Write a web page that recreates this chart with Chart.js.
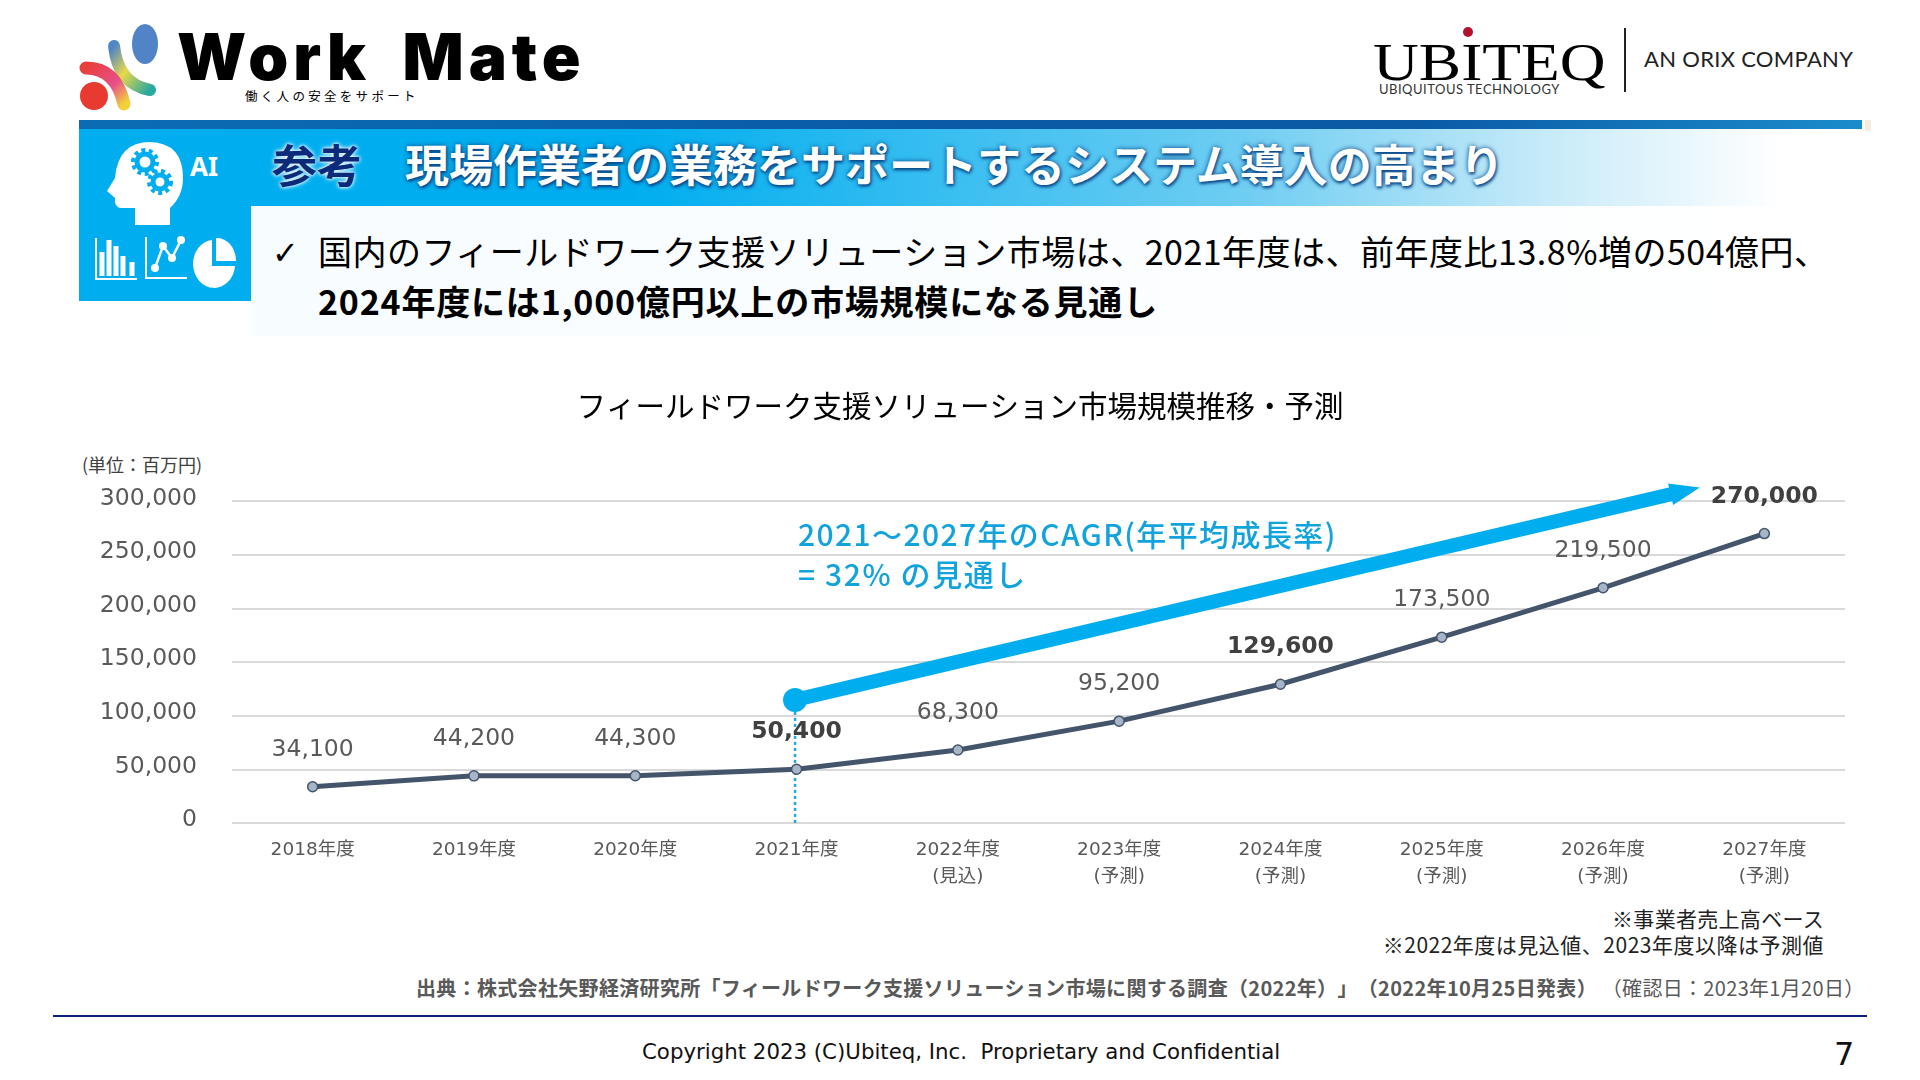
<!DOCTYPE html>
<html lang="ja">
<head>
<meta charset="utf-8">
<title>フィールドワーク支援ソリューション市場規模推移・予測</title>
<script src="https://cdn.jsdelivr.net/npm/chart.js@4"></script>
<style>
  html, body { margin: 0; padding: 0; background: #fff; }
  #page { position: relative; width: 1920px; height: 1080px; overflow: hidden; font-family: "Noto Sans CJK JP", sans-serif; color: #000; text-spacing-trim: space-all; }
  #page > * { position: absolute; }
  .t { white-space: nowrap; line-height: 1; }
  canvas { left: 75px; top: 380px; }
</style>
</head>
<body>
<div id="page">
  <!-- logo left -->
  <svg style="left:75px;top:20px" width="90" height="95" viewBox="75 20 90 95">
    <defs>
      <linearGradient id="g1" x1="0" y1="0" x2="1" y2="1"><stop offset="0" stop-color="#4f86c6"/><stop offset=".45" stop-color="#e8d94a"/><stop offset="1" stop-color="#27a8a0"/></linearGradient>
      <linearGradient id="g2" x1="0" y1="0" x2="1" y2="1"><stop offset="0" stop-color="#e8403a"/><stop offset=".6" stop-color="#e84f8c"/><stop offset="1" stop-color="#f2d13a"/></linearGradient>
    </defs>
    <ellipse cx="145" cy="44" rx="13" ry="20" fill="#5184c6"/>
    <path d="M114 46 Q118 84 150 90" fill="none" stroke="url(#g1)" stroke-width="12" stroke-linecap="round"/>
    <path d="M86 68 Q116 68 124 104" fill="none" stroke="url(#g2)" stroke-width="13" stroke-linecap="round"/>
    <ellipse cx="94" cy="96" rx="14" ry="14" fill="#e83a30"/>
  </svg>
  <div class="t" style="left:177px;top:18px;font:900 64px Inter,sans-serif;letter-spacing:5px;word-spacing:14px">Work Mate</div>
  <div class="t" style="left:245px;top:90px;font-size:12.5px;letter-spacing:3.3px">働く人の安全をサポート</div>

  <!-- logo right -->
  <div class="t" style="left:1373px;top:33px;font:52px 'Liberation Serif',serif;transform:scaleX(1.22);transform-origin:0 0">UBITEQ</div>
  <div style="left:1463px;top:27px;width:10px;height:10px;border-radius:50%;background:#b3122e"></div>
  <div class="t" style="left:1379px;top:81px;font:13px Lato,sans-serif;letter-spacing:.5px;color:#333">UBIQUITOUS TECHNOLOGY</div>
  <div style="left:1624px;top:28px;width:2px;height:64px;background:#222"></div>
  <div class="t" style="left:1644px;top:45px;font:22px Lato,sans-serif;color:#222;letter-spacing:.3px">AN ORIX COMPANY</div>

  <!-- header band -->
  <div style="left:79px;top:120px;width:1783px;height:9px;background:linear-gradient(90deg,#0b6cb4,#0a5aa6 50%,#0a5aa6 75%,#1b8ccb)"></div>
  <div style="left:1865px;top:120px;width:6px;height:11px;background:#f6eedc"></div>
  <div style="left:251px;top:129px;width:1530px;height:77px;background:linear-gradient(90deg,#00aeef,#00aeef 25%,#6fcdf2 65%,#c8ebf9 85%,#fff)"></div>
  <div style="left:79px;top:129px;width:172px;height:172px;background:#00aeef"></div>
  <div style="left:251px;top:206px;width:1620px;height:130px;background:linear-gradient(90deg,#f7fcff,#fff)"></div>

  <!-- AI icons -->
  <svg style="left:79px;top:129px" width="172" height="172" viewBox="79 129 172 172">
    <path d="M135 225 L135 208 L120 208 Q114 206 115 198 L107 191 L115 178 Q118 142 150 142 Q183 143 183 178 Q183 196 170 208 L170 225 Z" fill="#fff"/>
    <circle cx="145" cy="162" r="8" fill="none" stroke="#00aeef" stroke-width="5"/>
    <circle cx="145" cy="162" r="12" fill="none" stroke="#00aeef" stroke-width="4" stroke-dasharray="4 3.5"/>
    <circle cx="160" cy="182" r="7" fill="none" stroke="#00aeef" stroke-width="5"/>
    <circle cx="160" cy="182" r="11" fill="none" stroke="#00aeef" stroke-width="4" stroke-dasharray="4 3.5"/>
    <path d="M96 238 V279 H137" fill="none" stroke="#fff" stroke-width="2"/>
    <path d="M102 276 V252 M109 276 V240 M116 276 V246 M123 276 V256 M132 276 V262" stroke="#fff" stroke-width="5"/>
    <path d="M146 237 V278 H187" fill="none" stroke="#fff" stroke-width="2"/>
    <path d="M155 268 L163 246 L172 258 L181 240" fill="none" stroke="#fff" stroke-width="2.5"/>
    <g fill="#fff"><circle cx="155" cy="268" r="4"/><circle cx="163" cy="246" r="4"/><circle cx="172" cy="258" r="4"/><circle cx="181" cy="240" r="4"/></g>
    <path d="M212 240 A21 24 0 1 0 235 266 L212 266 Z" fill="#fff"/>
    <path d="M216 238 A19 23 0 0 1 236 261 L216 261 Z" fill="#fff"/>
  </svg>
  <div class="t" style="left:190px;top:148px;font:700 26px 'Noto Sans',sans-serif;color:#fff">AI</div>

  <div class="t" style="left:272px;top:141px;font-size:45px;font-weight:700;color:#0b2a7a;text-shadow:0 0 5px #fff,0 0 3px #fff">参考</div>
  <div class="t" style="left:405px;top:141px;font-size:44px;font-weight:700;color:#fff;text-shadow:0 0 5px #0b4a8c,1px 2px 3px #0b4a8c">現場作業者の業務をサポートするシステム導入の高まり</div>

  <div class="t" style="left:272px;top:234px;font:32px 'DejaVu Sans',sans-serif">✓</div>
  <div class="t" style="left:318px;top:234px;font-size:34px;letter-spacing:.5px">国内のフィールドワーク支援ソリューション市場は、2021年度は、前年度比13.8%増の504億円、</div>
  <div class="t" style="left:318px;top:284px;font-size:34px;font-weight:700;letter-spacing:.8px">2024年度には1,000億円以上の市場規模になる見通し</div>

  <div class="t" style="left:82px;top:455px;font-size:18px;color:#404040">(単位：百万円)</div>

  <canvas id="grafico" width="1785" height="520"></canvas>

  <div class="t" style="left:798px;top:518px;font-size:30px;font-weight:500;letter-spacing:1.4px;color:#12a3dc">2021～2027年のCAGR(年平均成長率)</div>
  <div class="t" style="left:798px;top:558px;font-size:30px;font-weight:500;letter-spacing:1.6px;color:#12a3dc">= 32% の見通し</div>

  <div class="t" style="right:96px;top:908px;font-size:21px;letter-spacing:.3px;color:#222">※事業者売上高ベース</div>
  <div class="t" style="right:96px;top:934px;font-size:21px;letter-spacing:.5px;color:#222">※2022年度は見込値、2023年度以降は予測値</div>
  <div class="t" style="left:416px;top:978px;font-size:20px;letter-spacing:.32px;color:#595959"><b>出典：株式会社矢野経済研究所「フィールドワーク支援ソリューション市場に関する調査（2022年）」（2022年10月25日発表）</b> （確認日：2023年1月20日）</div>
  <div style="left:53px;top:1015px;width:1814px;height:2px;background:#0f1f78"></div>
  <div class="t" style="left:642px;top:1039px;font:21.3px 'DejaVu Sans',sans-serif;color:#111;white-space:pre">Copyright 2023 (C)Ubiteq, Inc.  Proprietary and Confidential</div>
  <div class="t" style="left:1834px;top:1035px;font:32px 'DejaVu Sans',sans-serif;color:#111">7</div>
</div>

<script>
const categorias = [
  "2018年度", "2019年度", "2020年度", "2021年度",
  ["2022年度", "(見込)"], ["2023年度", "(予測)"], ["2024年度", "(予測)"],
  ["2025年度", "(予測)"], ["2026年度", "(予測)"], ["2027年度", "(予測)"]
];
const valores = [34100, 44200, 44300, 50400, 68300, 95200, 129600, 173500, 219500, 270000];
const rotulosNegrito = [3, 6, 9];
const seta = { de: [3, 115000], para: [8.6, 313000] };

const fonte = '"DejaVu Sans", "Noto Sans CJK JP", sans-serif';

const desenhaSeta = {
  id: "desenhaSeta",
  beforeDatasetsDraw(chart) {
    const { ctx, scales: { x, y } } = chart;
    const x0 = x.getPixelForValue(seta.de[0]) - 1.5;
    const y0 = y.getPixelForValue(seta.de[1]);
    const x1 = x.getPixelForValue(seta.para[0]);
    const y1 = y.getPixelForValue(seta.para[1]);
    const ang = Math.atan2(y1 - y0, x1 - x0);
    ctx.save();

    ctx.strokeStyle = "#1aa7dd";
    ctx.lineWidth = 2.5;
    ctx.setLineDash([3, 3]);
    ctx.beginPath();
    ctx.moveTo(x0, y0);
    ctx.lineTo(x0, y.getPixelForValue(0));
    ctx.stroke();
    ctx.setLineDash([]);

    ctx.fillStyle = "#00aeef";
    ctx.strokeStyle = "#00aeef";
    ctx.lineWidth = 14;
    ctx.beginPath();
    ctx.moveTo(x0, y0);
    ctx.lineTo(x1 - 26 * Math.cos(ang), y1 - 26 * Math.sin(ang));
    ctx.stroke();

    ctx.beginPath();
    ctx.arc(x0, y0, 12, 0, Math.PI * 2);
    ctx.fill();

    ctx.translate(x1, y1);
    ctx.rotate(ang);
    ctx.beginPath();
    ctx.moveTo(0, 0);
    ctx.lineTo(-30, -11);
    ctx.lineTo(-30, 11);
    ctx.closePath();
    ctx.fill();
    ctx.restore();
  }
};

const rotulos = {
  id: "rotulos",
  afterDatasetsDraw(chart) {
    const { ctx } = chart;
    const pontos = chart.getDatasetMeta(0).data;
    ctx.save();
    ctx.textAlign = "center";
    ctx.textBaseline = "middle";
    pontos.forEach((p, i) => {
      const negrito = rotulosNegrito.includes(i);
      ctx.font = (negrito ? "bold " : "") + "23.5px " + fonte;
      ctx.fillStyle = negrito ? "#404040" : "#595959";
      ctx.fillText(valores[i].toLocaleString("en-US"), p.x, p.y - 37);
    });
    ctx.restore();
  }
};

new Chart(document.getElementById("grafico"), {
  type: "line",
  data: {
    labels: categorias,
    datasets: [{
      data: valores,
      borderColor: "#44546a",
      borderWidth: 5,
      tension: 0,
      pointRadius: 5,
      pointBackgroundColor: "#a6b5c8",
      pointBorderColor: "#44546a",
      pointBorderWidth: 1.5,
      clip: false
    }]
  },
  options: {
    responsive: false,
    maintainAspectRatio: false,
    animation: false,
    layout: { padding: { top: 0, right: 15, bottom: 0, left: 0 } },
    plugins: {
      legend: { display: false },
      tooltip: { enabled: false },
      title: {
        display: true,
        text: "フィールドワーク支援ソリューション市場規模推移・予測",
        color: "#000",
        font: { family: '"Noto Sans CJK JP", sans-serif', size: 29.5, weight: "normal" },
        padding: { top: 8, bottom: 78 }
      }
    },
    scales: {
      x: {
        offset: true,
        grid: { display: false },
        border: { display: false },
        afterFit(scale) { scale.height = 76.7; },
        ticks: {
          color: "#595959",
          padding: 5.5,
          maxRotation: 0,
          autoSkip: false,
          font: { family: fonte, size: 18.5, lineHeight: 1.45 }
        }
      },
      y: {
        min: 0,
        max: 300000,
        afterFit(scale) { scale.width = 157; },
        grid: { color: "#d9d9d9", lineWidth: 2, drawTicks: false },
        border: { display: false },
        ticks: {
          stepSize: 50000,
          color: "#595959",
          padding: 35,
          labelOffset: -3,
          font: { family: fonte, size: 23.5 },
          callback: v => v.toLocaleString("en-US")
        }
      }
    }
  },
  plugins: [desenhaSeta, rotulos]
});
</script>
</body>
</html>
